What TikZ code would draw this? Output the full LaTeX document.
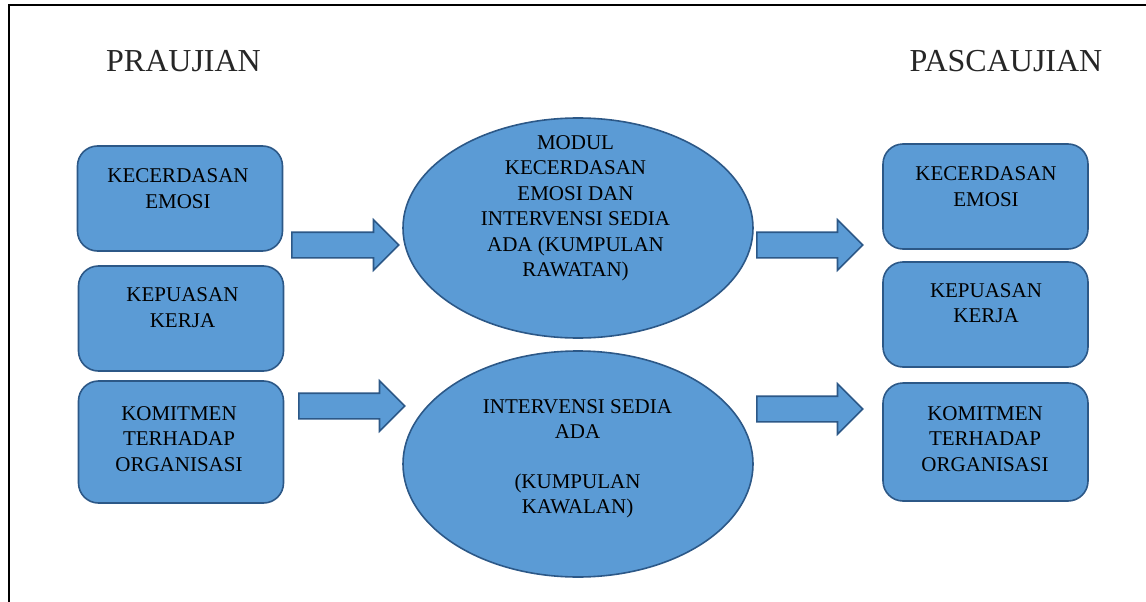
\documentclass[tikz,border=0pt]{standalone}
\usepackage{fontspec}
\setmainfont{Liberation Serif}
\usetikzlibrary{shapes.geometric,shapes.arrows}
\definecolor{boxblue}{HTML}{5B9BD5}
\definecolor{edgeblue}{RGB}{44,88,135}

\begin{document}
\begin{tikzpicture}[x=1pt,y=-1pt,
		box/.style={rectangle,rounded corners=20pt,draw=edgeblue,fill=boxblue,line width=1.6pt,minimum width=205pt,minimum height=105pt,inner sep=0pt},
		oval/.style={ellipse,draw=edgeblue,fill=boxblue,line width=1.6pt,minimum width=350pt,inner sep=0pt},
		txt/.style={align=center,font=\fontsize{21}{25.5}\selectfont},
		title/.style={font=\fontsize{32}{38}\selectfont,text=black!85,anchor=base},
		blockarrow/.style={single arrow,draw=edgeblue,fill=boxblue,line width=1.6pt,minimum width=49pt,minimum height=106pt,single arrow head extend=12.5pt,inner xsep=0pt,inner ysep=12pt,anchor=tail}]
		\useasboundingbox (0,0) rectangle (1146,602);
		\draw[line width=2.5pt,line join=miter] (9,602) -- (9,5) -- (1146,5);
		% titles
		\node[title] (pra) at (183.5,72) {PRAUJIAN};
		\node[title] (pasca) at (1006,72) {PASCAUJIAN};
		% praujian
		\node[box] (pra1) at (180,198.5) {};
		\node[box] (pra2) at (181,318.5) {};
		\node[box,minimum height=122pt] (pra3) at (181,442) {};
		\node[txt] (pra1t) at (178,188.5) {KECERDASAN\\EMOSI};
		\node[txt] (pra2t) at (182.5,307.5) {KEPUASAN\\KERJA};
		\node[txt] (pra3t) at (179,439) {KOMITMEN\\TERHADAP\\ORGANISASI};
		% kumpulan
		\node[oval,minimum height=220pt] (rawatan) at (578,228) {};
		\node[oval,minimum height=226pt] (kawalan) at (578,464) {};
		\node[txt] (rawatant) at (575.5,208.5) {MODUL\\KECERDASAN\\EMOSI DAN\\INTERVENSI SEDIA\\ADA (KUMPULAN\\RAWATAN)};
		\node[txt] (kawalant) at (577.5,459) {INTERVENSI SEDIA\\ADA\\[24pt](KUMPULAN\\KAWALAN)};
		% pascaujian
		\node[box] (pasca1) at (985.5,196.5) {};
		\node[box] (pasca2) at (985.5,314.5) {};
		\node[box,minimum height=118pt] (pasca3) at (985.5,442) {};
		\node[txt] (pasca1t) at (986,186.5) {KECERDASAN\\EMOSI};
		\node[txt] (pasca2t) at (986,303) {KEPUASAN\\KERJA};
		\node[txt] (pasca3t) at (985,439) {KOMITMEN\\TERHADAP\\ORGANISASI};
		% arrows
		\node[blockarrow,minimum height=107pt] (in1) at (291,245) {};
		\node[blockarrow] (in2) at (298,406) {};
		\node[blockarrow] (out1) at (756,245) {};
		\node[blockarrow] (out2) at (756,409) {};
\end{tikzpicture}
\end{document}
